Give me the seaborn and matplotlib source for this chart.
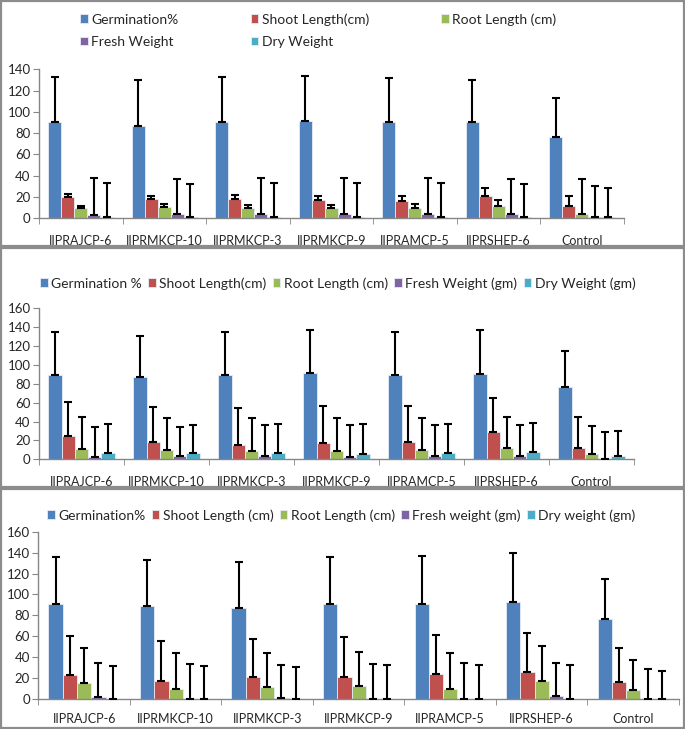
import numpy as np
import pandas as pd
import matplotlib
matplotlib.use("Agg")
import matplotlib.pyplot as plt
from matplotlib.patches import Rectangle
import seaborn as sns

# ---------------- data ----------------
categories = ["IIPRAJCP-6", "IIPRMKCP-10", "IIPRMKCP-3", "IIPRMKCP-9",
              "IIPRAMCP-5", "IIPRSHEP-6", "Control"]

# panel 1
labels_1 = ["Germination%", "Shoot Length(cm)", "Root Length (cm)", "Fresh Weight", "Dry Weight"]
germ_1 = [90.5, 87.1, 90.2, 91.1, 90.2, 90.2, 76.4]
germ_1_sd = [42.3, 42.9, 42.6, 42.3, 41.3, 39.8, 36.6]
shoot_1 = [20.0, 18.2, 18.2, 17.2, 16.0, 21.3, 11.6]
shoot_1_sd = [2.9, 3.1, 3.7, 4.1, 5.0, 6.9, 9.7]
root_1 = [10.0, 10.6, 9.4, 9.4, 9.4, 11.9, 4.4]
root_1_sd = [1.9, 2.6, 3.1, 3.4, 4.4, 5.6, 32.6]
fresh_1 = [3.4, 4.4, 3.8, 3.8, 3.8, 4.4, 1.2]
fresh_1_sd = [34.2, 32.6, 34.1, 34.1, 34.4, 32.6, 29.2]
dry_1 = [1.0, 1.0, 1.0, 1.0, 1.0, 1.0, 0.8]
dry_1_sd = [32.2, 31.0, 31.9, 32.2, 32.2, 31.6, 27.4]

# panel 2
labels_2 = ["Germination %", "Shoot Length(cm)", "Root Length (cm)", "Fresh Weight (gm)", "Dry Weight (gm)"]
germ_2 = [89.4, 86.9, 89.4, 91.1, 89.4, 90.8, 76.7]
germ_2_sd = [45.9, 43.8, 45.9, 46.3, 45.9, 45.9, 38.1]
shoot_2 = [24.7, 18.4, 15.5, 17.7, 18.4, 29.3, 12.4]
shoot_2_sd = [36.4, 37.1, 39.3, 39.2, 38.5, 36.0, 32.8]
root_2 = [11.0, 10.2, 8.8, 8.8, 9.9, 11.7, 5.7]
root_2_sd = [33.9, 33.2, 35.0, 35.4, 34.3, 33.2, 30.0]
fresh_2 = [2.8, 3.9, 3.5, 2.8, 3.9, 3.9, 0.7]
fresh_2_sd = [31.8, 30.7, 32.9, 33.2, 32.1, 32.1, 28.6]
dry_2 = [6.7, 6.7, 6.4, 5.7, 6.7, 7.8, 3.5]
dry_2_sd = [31.1, 29.7, 31.0, 31.7, 31.1, 30.7, 26.5]

# panel 3
labels_3 = ["Germination%", "Shoot Length (cm)", "Root Length (cm)", "Fresh weight (gm)", "Dry weight (gm)"]
germ_3 = [90.8, 88.9, 87.3, 90.5, 91.2, 92.4, 76.5]
germ_3_sd = [45.3, 44.3, 44.0, 45.6, 45.5, 46.9, 38.2]
shoot_3 = [22.9, 16.9, 21.4, 21.4, 24.2, 25.8, 16.6]
shoot_3_sd = [37.7, 38.6, 36.0, 37.6, 37.0, 37.3, 32.2]
root_3 = [15.6, 9.6, 11.2, 12.1, 9.6, 17.2, 8.6]
root_3_sd = [32.8, 34.1, 32.5, 32.8, 34.4, 33.8, 29.0]
fresh_3 = [1.9, 0.2, 0.6, 0.3, 0.3, 2.9, 0.1]
fresh_3_sd = [32.2, 32.9, 31.9, 33.5, 33.8, 31.8, 28.6]
dry_3 = [0.1, 0.1, 0.1, 0.1, 0.1, 0.1, 0.1]
dry_3_sd = [31.1, 31.5, 30.5, 32.1, 32.4, 32.1, 27.0]

colors = ["#4F81BD", "#C0504D", "#9BBB59", "#8064A2", "#4BACC6"]

sns.set_style("white")
plt.rcParams['font.family'] = ['Lato', 'DejaVu Sans']

W, H = 685, 729
fig = plt.figure(figsize=(W / 100, H / 100), dpi=100)


def fig_rect(x0, y_top, x1, y_bot):
    # pixel box -> figure fraction
    return [x0 / W, 1 - y_bot / H, (x1 - x0) / W, (y_bot - y_top) / H]


def draw_panel(box, ymax, labels, means, sds, leg_anchor, ncol, colspace, label_pad, leg_order):
    ax = fig.add_axes(box)
    df = pd.DataFrame({
        "cat": np.tile(categories, len(labels)),
        "series": np.repeat(labels, len(categories)),
        "value": np.concatenate(means),
    })
    sns.barplot(data=df, x="cat", y="value", hue="series", hue_order=labels,
                order=categories, palette=colors, width=0.78, errorbar=None,
                edgecolor="#e6ecf4", linewidth=0.6, saturation=1, ax=ax)
    # upward-only error bars
    for cont, m, s in zip(ax.containers, means, sds):
        xs = [p.get_x() + p.get_width() / 2 for p in cont]
        ax.errorbar(xs, m, yerr=[np.zeros(len(s)), s], fmt="none",
                    ecolor="black", elinewidth=1.5, capsize=3.2, capthick=1.5, zorder=3)
    ax.set_xlim(-0.5, len(categories) - 0.5)
    ax.set_ylim(0, ymax)
    ax.set_yticks(np.arange(0, ymax + 1, 20))
    ax.set_xlabel("")
    ax.set_ylabel("")
    for sp in ["top", "right"]:
        ax.spines[sp].set_visible(False)
    for sp in ["left", "bottom"]:
        ax.spines[sp].set_color("#868686")
        ax.spines[sp].set_linewidth(1.0)
    ax.set_xticks(np.arange(-0.5, len(categories)), minor=True)
    ax.tick_params(axis="x", which="major", length=0, pad=label_pad, labelsize=9)
    ax.tick_params(axis="x", which="minor", length=4, color="#868686", direction="out", bottom=True)
    ax.tick_params(axis="y", length=4, color="#868686", direction="out", left=True, labelsize=9.5, pad=2)
    handles, labs = ax.get_legend_handles_labels()
    handles = [handles[i] for i in leg_order]
    labs = [labs[i] for i in leg_order]
    ax.legend(handles, labs, loc="upper left", bbox_to_anchor=leg_anchor,
              bbox_transform=fig.transFigure, ncol=ncol, frameon=False,
              fontsize=10, handlelength=0.55, handleheight=0.55, handletextpad=0.25,
              columnspacing=colspace, borderaxespad=0, borderpad=0, labelspacing=0.75)
    return ax


draw_panel(fig_rect(39, 69.3, 623.5, 218.3), 140, labels_1,
           [germ_1, shoot_1, root_1, fresh_1, dry_1],
           [germ_1_sd, shoot_1_sd, root_1_sd, fresh_1_sd, dry_1_sd],
           (80 / W, 1 - 13 / H), 3, 5.2, 12, [0, 3, 1, 4, 2])
draw_panel(fig_rect(39, 308.3, 634, 459.3), 160, labels_2,
           [germ_2, shoot_2, root_2, fresh_2, dry_2],
           [germ_2_sd, shoot_2_sd, root_2_sd, fresh_2_sd, dry_2_sd],
           (40 / W, 1 - 277 / H), 5, 0.45, 12, [0, 1, 2, 3, 4])
draw_panel(fig_rect(38.4, 531.7, 679, 699), 160, labels_3,
           [germ_3, shoot_3, root_3, fresh_3, dry_3],
           [germ_3_sd, shoot_3_sd, root_3_sd, fresh_3_sd, dry_3_sd],
           (47 / W, 1 - 509 / H), 5, 0.45, 10, [0, 1, 2, 3, 4])

# panel frames
for (y0, y1) in [(1, 246), (248, 487), (489, 728)]:
    fig.add_artist(Rectangle((1 / W, 1 - y1 / H), 683 / W, (y1 - y0) / H,
                             transform=fig.transFigure, fill=False,
                             edgecolor="#8c8c8c", linewidth=1.6))

fig.savefig("out.png", dpi=100)
